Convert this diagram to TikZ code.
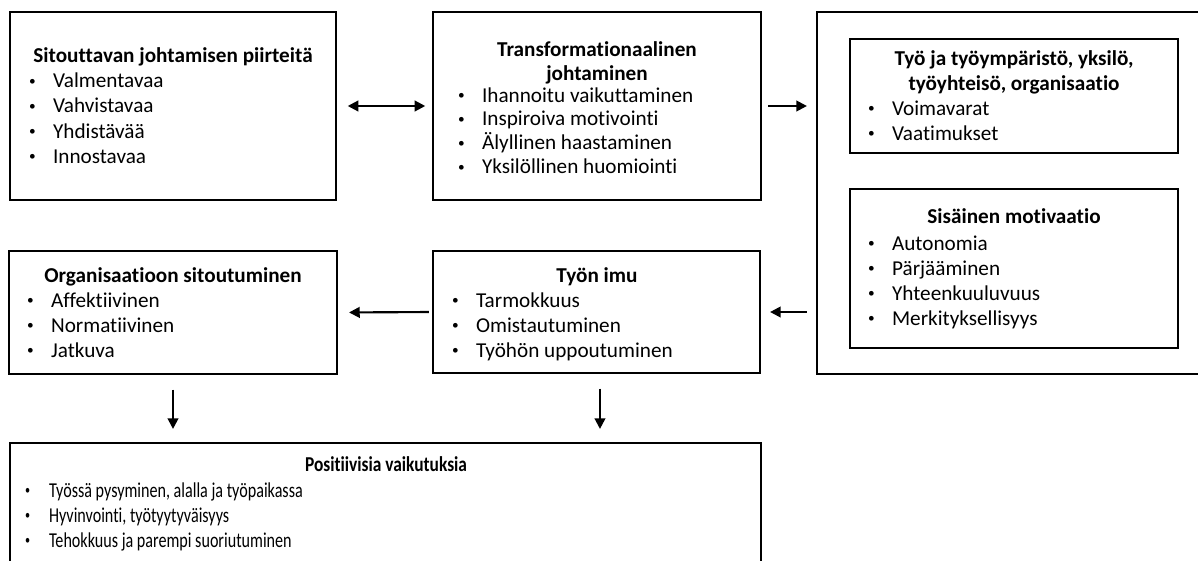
\documentclass[tikz,border=0pt]{standalone}
\usepackage{fontspec}
\setmainfont{Carlito}[Ligatures=NoCommon]
\newfontfamily\narrowfont{Carlito}[FakeStretch=0.82, Ligatures=NoCommon]
\newfontfamily\narrowerfont{Carlito}[FakeStretch=0.76, Ligatures=NoCommon]
\usetikzlibrary{arrows.meta, positioning}

\newcommand{\dotmark}{\raisebox{1.6pt}{\fontsize{10}{10}\selectfont •}}
\newcommand{\itemlist}[1]{\begin{tabular}[t]{@{}p{18pt}@{}l@{}}#1\end{tabular}}
\newcommand{\titlelines}[1]{\begin{tabular}[t]{@{}c@{}}#1\end{tabular}}

\begin{document}
\begin{tikzpicture}[x=0.75pt, y=-0.75pt, line width=1.6pt]
    % Define styles
    \tikzstyle{box} = [draw, rectangle, inner sep=0pt, line width=1.6pt]
    \tikzstyle{title} = [anchor=base, inner sep=0pt, font=\fontsize{15.9}{18.75}\selectfont\bfseries]
    \tikzstyle{items} = [anchor=base west, inner sep=0pt, font=\fontsize{15.9}{18.75}\selectfont]
    \tikzstyle{tighttitle} = [title, font=\fontsize{15.9}{17.7}\selectfont\bfseries]
    \tikzstyle{tightitems} = [items, font=\fontsize{15.9}{17.7}\selectfont]
    \tikzstyle{narrowtitle} = [title, font=\narrowfont\fontsize{15.9}{18.75}\selectfont\bfseries]
    \tikzstyle{narrowitems} = [items, font=\narrowerfont\fontsize{15.9}{18.75}\selectfont]
    \tikzstyle{link} = [-{Triangle[length=8pt, width=8pt]}, line width=1.6pt]
    \tikzstyle{twoway} = [{Triangle[length=8pt, width=8pt]}-{Triangle[length=8pt, width=8pt]}, line width=1.6pt]

    \useasboundingbox (0,0) rectangle (1198,560);
    \clip (0,0) rectangle (1198,560);

    % TOP ROW
    \node (lead_box) [box, minimum width=244.5pt, minimum height=141pt] at (173,106) {};
    \node (lead_title) [title] at (173,63) {Sitouttavan johtamisen piirteitä};
    \node (lead_items) [items] at (28,88) {\itemlist{%
        \dotmark & Valmentavaa \\ \dotmark & Vahvistavaa \\ \dotmark & Yhdistävää \\ \dotmark & Innostavaa}};

    \node (trans_box) [box, minimum width=246pt, minimum height=141pt] at (597,106) {};
    \node (trans_title) [tighttitle] at (597,57) {\titlelines{Transformationaalinen \\ johtaminen}};
    \node (trans_items) [tightitems] at (457,102) {\itemlist{%
        \dotmark & Ihannoitu vaikuttaminen \\ \dotmark & Inspiroiva motivointi \\
        \dotmark & Älyllinen haastaminen \\ \dotmark & Yksilöllinen huomiointi}};

    % RIGHT COLUMN
    \node (env_box) [box, minimum width=291pt, minimum height=271.5pt] at (1011,193) {};

    \node (res_box) [box, minimum width=246pt, minimum height=85.5pt] at (1014,96) {};
    \node (res_title) [title] at (1014,65) {\titlelines{Työ ja työympäristö, yksilö, \\ työyhteisö, organisaatio}};
    \node (res_items) [items] at (867,115) {\itemlist{%
        \dotmark & Voimavarat \\ \dotmark & Vaatimukset}};

    \node (motiv_box) [box, minimum width=246pt, minimum height=119.25pt] at (1014,268.5) {};
    \node (motiv_title) [title] at (1014,223) {Sisäinen motivaatio};
    \node (motiv_items) [items] at (867,250) {\itemlist{%
        \dotmark & Autonomia \\ \dotmark & Pärjääminen \\ \dotmark & Yhteenkuuluvuus \\ \dotmark & Merkityksellisyys}};

    % MIDDLE ROW
    \node (commit_box) [box, minimum width=246pt, minimum height=92.25pt] at (173,312.5) {};
    \node (commit_title) [title] at (173,282) {Organisaatioon sitoutuminen};
    \node (commit_items) [items] at (26,307) {\itemlist{%
        \dotmark & Affektiivinen \\ \dotmark & Normatiivinen \\ \dotmark & Jatkuva}};

    \node (imu_box) [box, minimum width=245.25pt, minimum height=91.5pt] at (596.5,312) {};
    \node (imu_title) [title] at (597,282) {Työn imu};
    \node (imu_items) [items] at (451,307) {\itemlist{%
        \dotmark & Tarmokkuus \\ \dotmark & Omistautuminen \\ \dotmark & Työhön uppoutuminen}};

    % BOTTOM
    \node (effect_box) [box, minimum width=563.25pt, minimum height=99pt] at (385.5,509) {};
    \node (effect_title) [narrowtitle] at (386,471) {Positiivisia vaikutuksia};
    \node (effect_items) [narrowitems] at (24,497) {\itemlist{%
        \dotmark & Työssä pysyminen, alalla ja työpaikassa \\
        \dotmark & Hyvinvointi, työtyytyväisyys \\
        \dotmark & Tehokkuus ja parempi suoriutuminen}};

    % CONNECTIONS
    \draw[twoway, shorten <=8pt, shorten >=5pt] (lead_box.east) -- (trans_box.west);
    \draw[link, shorten <=4.5pt, shorten >=6.75pt] (trans_box.east) -- (trans_box.east -| env_box.west);
    \draw[link, shorten <=6.75pt, shorten >=6.75pt] (imu_box.east -| env_box.west) -- (imu_box.east);
    \draw[link, shorten <=2.25pt, shorten >=8.25pt] (imu_box.west) -- (commit_box.east);
    \draw[link, shorten <=11pt, shorten >=9.75pt] (commit_box.south) -- (commit_box.south |- effect_box.north);
    \draw[link, shorten <=11pt, shorten >=9.75pt] ([xshift=2.6pt]imu_box.south) -- ([xshift=2.6pt]imu_box.south |- effect_box.north);

\end{tikzpicture}
\end{document}
